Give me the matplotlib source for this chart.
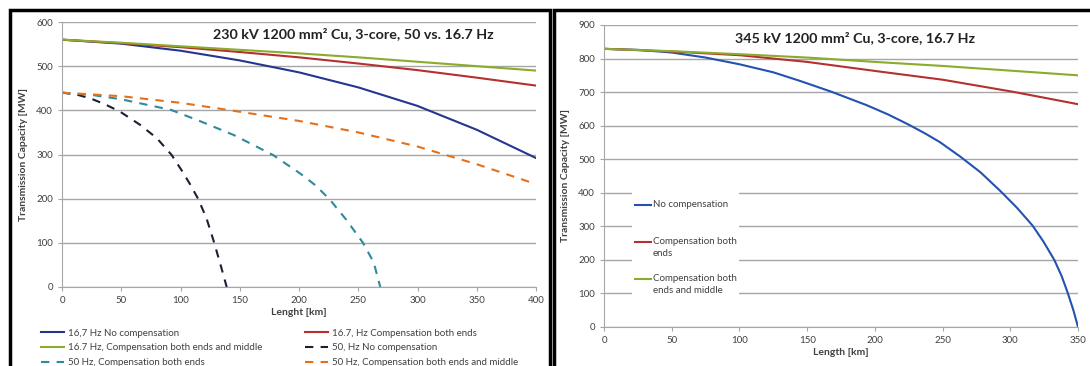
import matplotlib.pyplot as plt
from matplotlib.patches import Rectangle

plt.rcParams['font.family'] = ['Lato', 'DejaVu Sans']

# left panel: 230 kV, 50 vs 16.7 Hz
len_a = [0, 50, 100, 150, 200, 250, 300, 350, 400]
hz16_none = [560, 551, 535, 513, 486, 452, 410, 356, 292]
hz16_ends = [560, 552, 543, 532, 520, 506, 491, 474, 456]
hz16_mid = [560, 553, 545, 537, 529, 520, 510, 500, 490]

len_b = [0, 12, 24, 36, 49, 66, 80, 92.5, 101, 108, 115, 122, 128, 133.5, 139]
hz50_none = [440, 436, 427, 414, 397, 367, 337, 299, 264, 233, 199, 155, 104, 53, 0]

len_c = [0, 25, 50, 92, 117, 145, 178, 201, 214, 226, 240, 254, 263, 268.6]
hz50_ends = [440, 435, 425, 401, 375, 344, 299, 257, 230, 198, 152, 100, 56, 0]

len_d = [0, 50, 100, 135, 200, 250, 300, 350, 400]
hz50_mid = [440, 432, 417, 403, 376, 350, 318, 278, 233]

# right panel: 345 kV, 16.7 Hz
len_e = [0, 25, 50, 75, 100, 125, 145, 168, 194, 210, 225, 237, 248, 263, 278, 293,
         305, 316.5, 324.4, 332.5, 337.9, 342.4, 346.6, 350]
kv345_none = [829, 826, 818, 803, 783, 759, 733, 701, 661, 633, 603, 577, 551, 508, 461, 404,
              355, 302, 255, 200, 152, 102, 50, 0]
len_f = [0, 50, 100, 150, 204, 250, 302, 350]
kv345_ends = [829, 821, 810, 790, 761, 737, 701, 664]
len_g = [0, 50, 100, 150, 204, 250, 300, 350]
kv345_mid = [829, 822, 813, 803, 789, 778, 764, 750]

labels_left = ['16,7 Hz No compensation', '16.7, Hz Compensation both ends',
               '16.7 Hz, Compensation both ends and middle', '50, Hz No compensation',
               '50 Hz, Compensation both ends', '50 Hz, Compensation both ends and middle']
labels_right = ['No compensation', 'Compensation both\nends', 'Compensation both\nends and middle']

navy = '#27358f'
red = '#b5302e'
green = '#8aab2c'
teal = '#2f8a9c'
orange = '#e3711c'
dark = '#1c1f33'
grid = '#a6a6a6'
txt = '#404040'


def style(ax, xmax, xstep, ymax, ystep):
    ax.set_xlim(0, xmax)
    ax.set_ylim(0, ymax)
    ax.set_xticks(range(0, xmax + 1, xstep))
    ax.set_yticks(range(0, ymax + 1, ystep))
    ax.grid(axis='y', color=grid, lw=1)
    ax.set_axisbelow(True)
    for s in ['top', 'right']:
        ax.spines[s].set_visible(False)
    for s in ['left', 'bottom']:
        ax.spines[s].set_color(grid)
    ax.tick_params(colors=txt, labelsize=7, length=3, color=grid)
    ax.set_ylabel('Transmission Capacity [MW]', fontsize=7.5, fontweight='bold', color=txt, labelpad=6)


fig = plt.figure(figsize=(10.9, 3.66), dpi=100)

# panel borders
fig.add_artist(Rectangle((10 / 1090, -0.05), 540 / 1090, 1 - 10 / 366 + 0.05,
                         transform=fig.transFigure, fill=False, ec='black', lw=2.5))
fig.add_artist(Rectangle((554 / 1090, -0.05), 545 / 1090, 1 - 10 / 366 + 0.05,
                         transform=fig.transFigure, fill=False, ec='black', lw=2.5))

ax1 = fig.add_axes([62 / 1090, 1 - 287 / 366, 474 / 1090, 265 / 366])
style(ax1, 400, 50, 600, 100)
l1, = ax1.plot(len_a, hz16_none, color=navy, lw=1.5)
l2, = ax1.plot(len_a, hz16_ends, color=red, lw=1.5)
l3, = ax1.plot(len_a, hz16_mid, color=green, lw=1.5)
l4, = ax1.plot(len_b, hz50_none, color=dark, lw=1.5, dashes=(4, 3.5))
l5, = ax1.plot(len_c, hz50_ends, color=teal, lw=1.5, dashes=(4, 3.5))
l6, = ax1.plot(len_d, hz50_mid, color=orange, lw=1.5, dashes=(4, 3.5))
ax1.set_xlabel('Lenght [km]', fontsize=7.5, fontweight='bold', color=txt, labelpad=2)
ax1.text(0.614, 0.955, '230 kV 1200 mm² Cu, 3-core, 50 vs. 16.7 Hz', transform=ax1.transAxes,
         ha='center', va='center', fontsize=10.3, fontweight='bold', color='#222222')
hs = [l1, l3, l5, l2, l4, l6]
ls = [labels_left[i] for i in [0, 2, 4, 1, 3, 5]]
leg = ax1.legend(hs, ls, ncol=2, loc='upper left', bbox_to_anchor=(-0.053, -0.142), frameon=False,
                 fontsize=7, handlelength=2.4, handletextpad=0.35, columnspacing=4.45,
                 labelspacing=0.6, borderaxespad=0)
for t in leg.get_texts():
    t.set_color(txt)

ax2 = fig.add_axes([604 / 1090, 1 - 327 / 366, 474 / 1090, 302 / 366])
style(ax2, 350, 50, 900, 100)
r1, = ax2.plot(len_e, kv345_none, color='#2352b0', lw=1.5)
r2, = ax2.plot(len_f, kv345_ends, color=red, lw=1.5)
r3, = ax2.plot(len_g, kv345_mid, color=green, lw=1.5)
ax2.set_xlabel('Length [km]', fontsize=7.5, fontweight='bold', color=txt, labelpad=2)
ax2.text(0.53, 0.957, '345 kV 1200 mm² Cu, 3-core, 16.7 Hz', transform=ax2.transAxes,
         ha='center', va='center', fontsize=10.3, fontweight='bold', color='#222222')

# Excel style legend: white box, fixed pitch, handle on first text line
ax2.add_patch(Rectangle((0.059, 0.095), 0.226, 0.37, transform=ax2.transAxes,
                        facecolor='white', edgecolor='none', zorder=3))
for i, (ln, lab) in enumerate(zip([r1, r2, r3], labels_right)):
    yy = 0.405 - i * 0.1225
    ax2.plot([0.065, 0.1], [yy, yy], transform=ax2.transAxes, color=ln.get_color(), lw=1.5, zorder=4)
    ax2.text(0.103, yy + 0.017, lab, transform=ax2.transAxes, ha='left', va='top', fontsize=7,
             color=txt, linespacing=1.45, zorder=4)

fig.savefig('out.png', dpi=100)
